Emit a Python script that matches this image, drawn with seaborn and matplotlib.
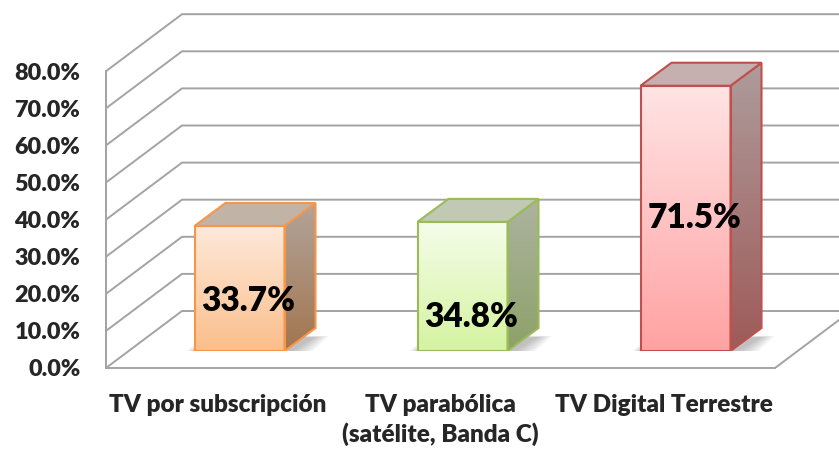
import numpy as np
import matplotlib
matplotlib.use("Agg")
import matplotlib.pyplot as plt
import seaborn as sns
import pandas as pd
from matplotlib.patches import Polygon
from matplotlib.colors import to_rgb

# ---------------- data ----------------
categories = ["TV por subscripción", "TV parabólica\n(satélite, Banda C)", "TV Digital Terrestre"]
values = [33.7, 34.8, 71.5]
value_labels = ["33.7%", "34.8%", "71.5%"]
y_ticks = [0, 10, 20, 30, 40, 50, 60, 70, 80]
y_tick_labels = ["0.0%", "10.0%", "20.0%", "30.0%", "40.0%", "50.0%", "60.0%", "70.0%", "80.0%"]

# ---------------- style ----------------
front_top = ["#FEE9DB", "#F5FDEA", "#FFE4E4"]
front_bottom = ["#FBBE8B", "#D5F3A0", "#FFA2A2"]
edge_col = ["#F79646", "#9BBB59", "#C0504D"]
side_top = ["#B3A499", "#ADB4A0", "#AE9C9C"]
side_bottom = ["#A27550", "#8DA168", "#9E5A58"]
top_face = ["#C2B3A7", "#C1C8B3", "#C6AFAF"]
label_frac = [0.40, 0.26, 0.50]
grid_col = "#A3A3A3"
WEIGHT = "heavy"

W, H = 839, 449
SX, SY = 223.0, 3.71          # px per category unit / per percent
X0_PX, Y0_PX = 106, 368       # front-left floor corner
DEPTH_PX = (76, 57)           # back wall offset
BAR_OFF_PX = (22, 17)         # bar plane offset
BAR_DEPTH_PX = (31, 23)

sns.set_style("white")
plt.rcParams["font.family"] = ["Lato", "DejaVu Sans"]

fig = plt.figure(figsize=(W / 100, H / 100), dpi=100)
fig.patch.set_facecolor("white")

axw = (W - X0_PX) / W
axh = Y0_PX / H
ax = fig.add_axes([X0_PX / W, (H - Y0_PX) / H, axw, axh])
xmax = -0.5 + (W - X0_PX) / SX
ymax = Y0_PX / SY
ax.set_xlim(-0.5, xmax)
ax.set_ylim(0, ymax)

# perspective grid (walls + floor)
dx = DEPTH_PX[0] / SX
dy = DEPTH_PX[1] / SY
for v in y_ticks:
    ax.plot([-0.5, -0.5 + dx, xmax + 1], [v, v + dy, v + dy], color=grid_col, lw=1.4, zorder=1)
ax.plot([2.5, 2.5 + dx], [0, dy], color=grid_col, lw=1.4, zorder=1)

for s in ["top", "right"]:
    ax.spines[s].set_visible(False)
for s in ["left", "bottom"]:
    ax.spines[s].set_color(grid_col)
    ax.spines[s].set_linewidth(1.4)
ax.spines["left"].set_bounds(0, 80)
ax.spines["bottom"].set_bounds(-0.5, 2.5)

ax.set_yticks(y_ticks)
ax.set_yticklabels(y_tick_labels, fontsize=16.8, fontweight=WEIGHT)
ax.tick_params(axis="y", length=5.5, width=1.4, color=grid_col, pad=13)
ax.set_xticks([0, 1, 2])
ax.set_xticklabels(categories, fontsize=17.5, fontweight=WEIGHT, linespacing=1.29)
ax.tick_params(axis="x", which="major", length=0, pad=19)
ax.set_xticks([-0.5, 0.5, 1.5, 2.5], minor=True)
ax.tick_params(axis="x", which="minor", length=5.5, width=1.4, color=grid_col, direction="out")
ax.grid(False)

# bar plane axes (shifted into depth)
ax2 = fig.add_axes([(X0_PX + BAR_OFF_PX[0]) / W, (H - Y0_PX + BAR_OFF_PX[1]) / H, axw, axh])
ax2.patch.set_visible(False)
df = pd.DataFrame({"cat": categories, "val": values})
sns.barplot(data=df, x="cat", y="val", hue="cat", palette=front_bottom, legend=False,
            width=90 / SX, ax=ax2, saturation=1)
bars = list(ax2.patches)

bdx = BAR_DEPTH_PX[0] / SX
bdy = BAR_DEPTH_PX[1] / SY


def vgrad(c_top, c_bot, n=256):
    t = np.linspace(0, 1, n)[:, None, None]
    a = np.array(to_rgb(c_top))[None, None, :]
    b = np.array(to_rgb(c_bot))[None, None, :]
    return a * (1 - t) + b * t


for i, p in enumerate(bars):
    x0, w, h = p.get_x(), p.get_width(), p.get_height()
    # soft shadow
    for k in range(6):
        e = 0.012 * k
        ey = 0.35 * k
        sh = Polygon([(x0 - 0.03 - e, -0.8 - ey), (x0 + w + 0.02 + e, -0.8 - ey),
                      (x0 + w + bdx + e, bdy * 0.6 + ey * 0.2), (x0 + bdx - 0.03 - e, bdy * 0.6 + ey * 0.2)],
                     closed=True, facecolor="#000000", edgecolor="none", alpha=0.045, zorder=1)
        ax2.add_patch(sh)
    # front face gradient
    p.set_facecolor("none")
    p.set_edgecolor(edge_col[i])
    p.set_linewidth(1.5)
    p.set_zorder(4)
    im = ax2.imshow(vgrad(front_top[i], front_bottom[i]), extent=[x0, x0 + w, 0, h],
                    aspect="auto", origin="upper", zorder=3, interpolation="bilinear")
    im.set_clip_path(p)
    # side face
    side = Polygon([(x0 + w, 0), (x0 + w + bdx, bdy), (x0 + w + bdx, h + bdy), (x0 + w, h)],
                   closed=True, facecolor="none", edgecolor=edge_col[i], lw=1.5, zorder=4)
    ax2.add_patch(side)
    ims = ax2.imshow(vgrad(side_top[i], side_bottom[i]), extent=[x0 + w, x0 + w + bdx, 0, h + bdy],
                     aspect="auto", origin="upper", zorder=3, interpolation="bilinear")
    ims.set_clip_path(side)
    # top face
    top = Polygon([(x0, h), (x0 + bdx, h + bdy), (x0 + w + bdx, h + bdy), (x0 + w, h)],
                  closed=True, facecolor=top_face[i], edgecolor=edge_col[i], lw=1.5, zorder=4)
    ax2.add_patch(top)
    ax2.text(x0 + w / 2 + 0.04, values[i] * label_frac[i], value_labels[i], ha="center", va="center",
             fontsize=24, fontweight=WEIGHT, color="black", zorder=6)

ax2.set_xlim(-0.5, xmax)
ax2.set_ylim(0, ymax)
ax2.axis("off")

fig.savefig("out.png", dpi=100, facecolor="white")
